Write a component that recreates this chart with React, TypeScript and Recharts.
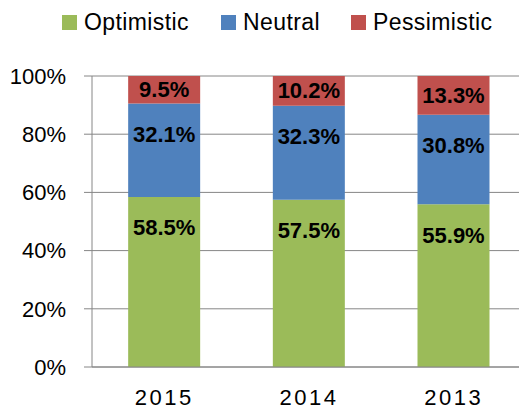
import {
  BarChart,
  Bar,
  XAxis,
  YAxis,
  CartesianGrid,
  Legend,
  LabelList,
} from "recharts";

const years = ["2015", "2014", "2013"];
const optimistic = [58.5, 57.5, 55.9];
const neutral = [32.1, 32.3, 30.8];
const pessimistic = [9.5, 10.2, 13.3];
const yTicks = [0, 0.2, 0.4, 0.6, 0.8, 1];

const data = years.map((y, i) => ({
  year: y,
  Optimistic: optimistic[i],
  Neutral: neutral[i],
  Pessimistic: pessimistic[i],
}));

const series = [
  { key: "Optimistic", color: "#9BBB59", left: 62 },
  { key: "Neutral", color: "#4F81BD", left: 221 },
  { key: "Pessimistic", color: "#C0504D", left: 351 },
];

const FONT = "'Liberation Sans', Arial, sans-serif";
const GRID = "#868686";

const LegendBox = () => (
  <div
    style={{
      position: "relative",
      width: 527,
      height: 44,
      fontFamily: FONT,
      fontSize: 23,
      letterSpacing: 0.4,
      color: "#000",
    }}
  >
    {series.map((s) => (
      <div
        key={s.key}
        style={{
          position: "absolute",
          left: s.left,
          top: 8,
          display: "flex",
          alignItems: "center",
          height: 28,
          whiteSpace: "nowrap",
        }}
      >
        <span
          style={{
            width: 15,
            height: 15,
            background: s.color,
            display: "inline-block",
            marginRight: 7,
          }}
        />
        {s.key}
      </div>
    ))}
  </div>
);

const SegLabel = (props: any) => {
  const { x, y, width, height, value } = props;
  const cy = y + Math.min(31, height / 2);
  return (
    <text
      x={x + width / 2}
      y={cy}
      textAnchor="middle"
      dominantBaseline="central"
      fill="#000"
      fontSize={22}
      fontWeight="bold"
      fontFamily={FONT}
    >
      {`${Number(value).toFixed(1)}%`}
    </text>
  );
};

export default function App() {
  return (
    <div style={{ marginLeft: -8, marginTop: -8, width: 527, height: 411 }}>
      <BarChart
        width={527}
        height={411}
        data={data}
        stackOffset="expand"
        barCategoryGap="25%"
        margin={{ top: 32, right: 1, left: 0, bottom: 0 }}
      >
        <Legend
          verticalAlign="top"
          align="left"
          content={() => <LegendBox />}
          wrapperStyle={{ top: 0, left: 0 }}
        />
        <CartesianGrid vertical={false} stroke={GRID} strokeWidth={1} />
        <XAxis
          dataKey="year"
          height={44}
          axisLine={{ stroke: GRID }}
          tickLine={false}
          tickMargin={16}
          tick={{ fill: "#000", fontSize: 22, fontFamily: FONT, letterSpacing: 2.5 }}
        />
        <XAxis
          xAxisId="edges"
          type="number"
          domain={[0, 3]}
          ticks={[0, 1, 2, 3]}
          height={0}
          axisLine={false}
          tickLine={{ stroke: GRID }}
          tickSize={8}
          tick={false}
        />
        <YAxis
          width={92}
          domain={[0, 1]}
          ticks={yTicks}
          tickFormatter={(t) => `${Math.round(t * 100)}%`}
          axisLine={{ stroke: GRID }}
          tickLine={{ stroke: GRID }}
          tickSize={8}
          tickMargin={18}
          tick={{ fill: "#000", fontSize: 22, fontFamily: FONT }}
        />
        {series.map((s) => (
          <Bar
            key={s.key}
            dataKey={s.key}
            stackId="a"
            fill={s.color}
            isAnimationActive={false}
          >
            <LabelList dataKey={s.key} content={SegLabel} />
          </Bar>
        ))}
      </BarChart>
    </div>
  );
}
